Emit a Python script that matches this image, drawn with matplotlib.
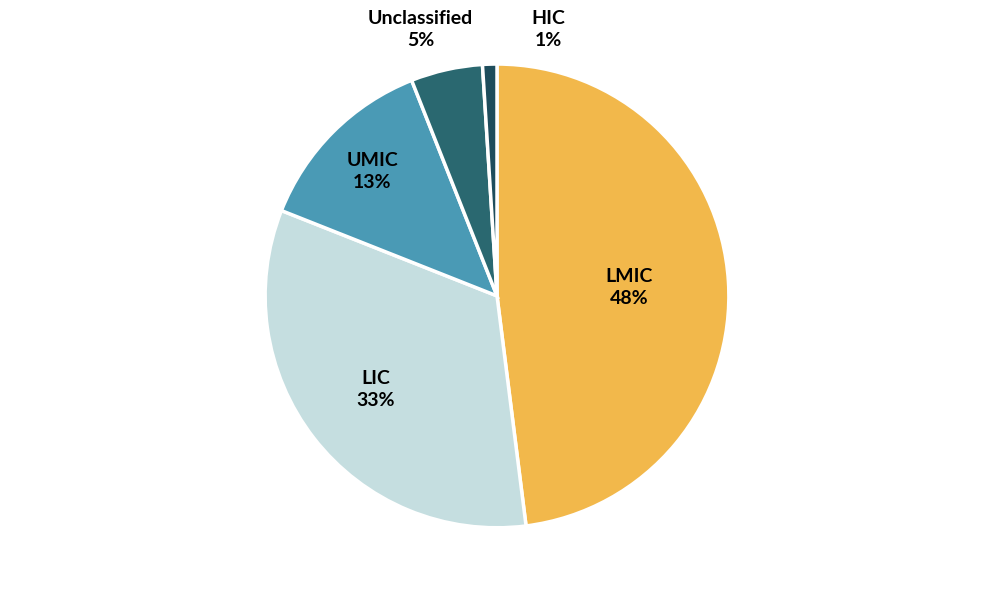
import numpy as np
import matplotlib.pyplot as plt

labels = ["LMIC", "LIC", "UMIC", "Unclassified", "HIC"]
shares = [48, 33, 13, 5, 1]
colors = ["#F2B84B", "#C5DEE0", "#4A9AB5", "#2A6870", "#1E4D5C"]

plt.rcParams['font.family'] = ['Lato', 'DejaVu Sans']

fig = plt.figure(figsize=(10, 5.93), dpi=100)
ax = fig.add_axes([0.497 - 0.232, 0.501 - 0.391, 0.464, 0.782])

wedges, _ = ax.pie(shares, colors=colors, startangle=90, counterclock=False,
                   radius=1.0, wedgeprops=dict(edgecolor="white", linewidth=2.5))
ax.set_xlim(-1, 1)
ax.set_ylim(-1, 1)
ax.set_aspect("equal")
ax.axis("off")

# label placement (radius, extra x shift) per slice
inner = {"LMIC": 0.57, "LIC": 0.66, "UMIC": 0.76}
outer = {"Unclassified": (-0.33, 1.15), "HIC": (0.22, 1.15)}
for w, lab, v in zip(wedges, labels, shares):
    ang = np.deg2rad((w.theta1 + w.theta2) / 2)
    if lab in inner:
        r = inner[lab]
        x, y = r * np.cos(ang), r * np.sin(ang)
    else:
        x, y = outer[lab]
    ax.text(x, y, f"{lab}\n{v}%", ha="center", va="center", fontsize=14,
            fontweight="bold", linespacing=1.35, color="black")

fig.savefig("out.png", dpi=100)
